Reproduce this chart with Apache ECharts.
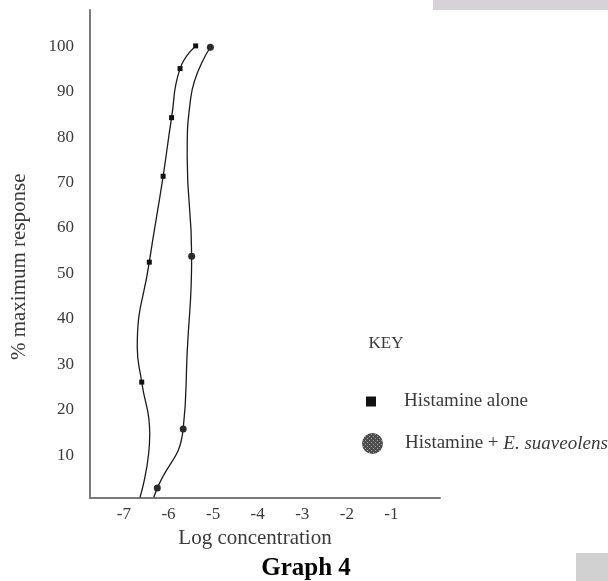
<!DOCTYPE html>
<html>
<head>
<meta charset="utf-8">
<script src="https://cdn.jsdelivr.net/npm/echarts@6/dist/echarts.min.js"></script>
<style>
  html, body { margin: 0; padding: 0; background: #fff; }
  #chart { width: 608px; height: 581px; }
</style>
</head>
<body>
<div id="chart"></div>
<script>
// Tick labels
const xTicks = [-7, -6, -5, -4, -3, -2, -1];
const yTicks = [10, 20, 30, 40, 50, 60, 70, 80, 90, 100];

// Histamine alone: log concentration, % maximum response, whether a point is marked
const aloneLogConc  = [-5.39, -5.74, -5.93, -6.12, -6.43, -6.70, -6.60, -6.42, -6.64];
const aloneResponse = [99.4, 94.4, 83.6, 70.7, 51.8, 33.0, 25.4, 14.0, 0];
const aloneMarked   = [1, 1, 1, 1, 1, 0, 1, 0, 0];

// Histamine + E. suaveolens
const esLogConc  = [-5.06, -5.50, -5.58, -5.48, -5.58, -5.67, -6.25, -6.33];
const esResponse = [99.1, 88.0, 75.0, 53.1, 32.0, 15.1, 2.1, 0];
const esMarked   = [1, 0, 0, 1, 0, 1, 1, 0];

const SERIF = '"Liberation Serif", "Times New Roman", serif';
const seriesNames = ['Histamine alone', 'Histamine + E. suaveolens'];

function buildPoints(xs, ys, marked) {
  return xs.map((x, i) => marked[i]
    ? { value: [x, ys[i]] }
    : { value: [x, ys[i]], symbol: 'none' });
}

// speckled grey fill for the E. suaveolens marker
function speckle() {
  const c = document.createElement('canvas');
  c.width = 4; c.height = 4;
  const g = c.getContext('2d');
  g.fillStyle = '#4e4e4e';
  g.fillRect(0, 0, 4, 4);
  g.fillStyle = '#a0a0a0';
  g.fillRect(1, 1, 1, 1);
  g.fillRect(3, 3, 1, 1);
  return { image: c, repeat: 'repeat' };
}
const speckleFill = speckle();

const chart = echarts.init(document.getElementById('chart'), null, { renderer: 'canvas' });

chart.setOption({
  animation: false,
  backgroundColor: '#ffffff',
  grid: { left: 90, top: 10, right: 168, bottom: 83.5 },
  xAxis: {
    type: 'value',
    min: -7.76,
    max: 0.09,
    name: 'Log concentration',
    nameLocation: 'middle',
    nameGap: 29,
    nameTextStyle: { fontFamily: SERIF, fontSize: 21, color: '#3a3a3a', padding: [0, 20, 0, 0] },
    axisLine: { show: true, onZero: false, lineStyle: { color: '#7a7a7a', width: 2 } },
    axisTick: { show: false },
    splitLine: { show: false },
    axisLabel: {
      customValues: xTicks,
      margin: 9,
      fontFamily: SERIF, fontSize: 17, color: '#3a3a3a'
    }
  },
  yAxis: {
    type: 'value',
    min: 0,
    max: 107.3,
    name: '% maximum response',
    nameLocation: 'middle',
    nameGap: 60,
    nameRotate: 90,
    nameTextStyle: { fontFamily: SERIF, fontSize: 21, color: '#3a3a3a', padding: [0, 26, 0, 0] },
    axisLine: { show: true, onZero: false, lineStyle: { color: '#7a7a7a', width: 2 } },
    axisTick: { show: false },
    splitLine: { show: false },
    axisLabel: {
      customValues: yTicks,
      margin: 16,
      verticalAlign: 'top',
      lineHeight: 6,
      fontFamily: SERIF, fontSize: 17, color: '#3a3a3a'
    }
  },
  legend: [
    {
      data: [{ name: seriesNames[0], icon: 'rect', itemStyle: { color: '#111' } }],
      orient: 'vertical',
      left: 366, top: 392,
      padding: 0,
      itemWidth: 10, itemHeight: 10,
      selectedMode: false,
      textStyle: { fontFamily: SERIF, fontSize: 19, color: '#3a3a3a', padding: [0, 0, 0, 23] }
    },
    {
      data: [{ name: seriesNames[1], icon: 'circle', itemStyle: { color: speckleFill } }],
      orient: 'vertical',
      left: 362, top: 433,
      padding: 0,
      itemWidth: 21, itemHeight: 21,
      selectedMode: false,
      formatter: () => '{n|Histamine + }{i|E. suaveolens}',
      textStyle: {
        fontFamily: SERIF, fontSize: 19, color: '#3a3a3a', padding: [0, 0, 0, 17],
        rich: {
          n: { fontFamily: SERIF, fontSize: 19, color: '#3a3a3a' },
          i: { fontFamily: SERIF, fontSize: 19, color: '#3a3a3a', fontStyle: 'italic' }
        }
      }
    }
  ],
  graphic: [
    { type: 'rect', shape: { x: 433, y: 0, width: 175, height: 10 }, style: { fill: '#d5d3d5' }, silent: true },
    { type: 'rect', shape: { x: 576, y: 553, width: 32, height: 28 }, style: { fill: '#d2d1d2' }, silent: true },
    {
      type: 'text', x: 386, y: 344,
      style: { text: 'KEY', fontFamily: SERIF, fontSize: 17, fill: '#3a3a3a', align: 'center', verticalAlign: 'middle' }
    },
    {
      type: 'text', x: 306, y: 569,
      style: { text: 'Graph 4', fontFamily: SERIF, fontSize: 25, fontWeight: 'bold', fill: '#000', align: 'center', verticalAlign: 'middle' }
    }
  ],
  series: [
    {
      name: seriesNames[0],
      type: 'line',
      smooth: 0.5,
      data: buildPoints(aloneLogConc, aloneResponse, aloneMarked),
      symbol: 'rect',
      symbolSize: 5,
      itemStyle: { color: '#111' },
      lineStyle: { color: '#1a1a1a', width: 1.3 }
    },
    {
      name: seriesNames[1],
      type: 'line',
      smooth: 0.5,
      data: buildPoints(esLogConc, esResponse, esMarked),
      symbol: 'circle',
      symbolSize: 7,
      itemStyle: { color: '#2a2a2a' },
      lineStyle: { color: '#1a1a1a', width: 1.3 }
    }
  ]
});
</script>
</body>
</html>
